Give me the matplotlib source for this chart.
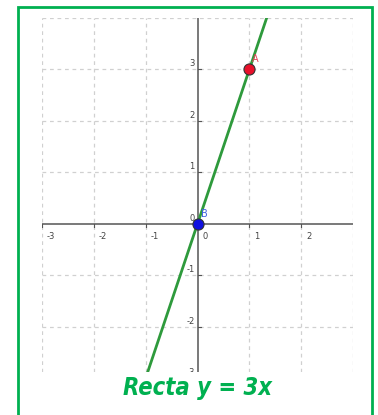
import numpy as np
import matplotlib.pyplot as plt
from matplotlib import font_manager
from matplotlib.patches import Rectangle
from matplotlib.transforms import offset_copy

# data
slope = 3
x_ticks = [-3, -2, -1, 0, 1, 2]
y_ticks = [-3, -2, -1, 1, 2, 3]
points = ["A", "B"]
px = [1, 0]
py = [3, 0]
point_colors = ["#e8102a", "#1010e0"]
label_colors = ["#e8405a", "#4060e0"]
xlim = (-3, 3)
ylim = (-2.88, 4)

green = "#00b050"
line_green = "#2e9a3c"


def narrow_font():
    # pick a condensed face if one is around
    for fam, st in [("Liberation Sans Narrow", "normal"), ("DejaVu Sans", "condensed")]:
        fp = font_manager.FontProperties(family=fam, style="italic", weight="bold", stretch=st)
        try:
            path = font_manager.findfont(fp, fallback_to_default=False)
        except ValueError:
            continue
        if "Narrow" in path or "Condensed" in path:
            return font_manager.FontProperties(fname=path, size=17)
    return font_manager.FontProperties(family="DejaVu Sans", style="italic",
                                       weight="bold", size=14)


fig = plt.figure(figsize=(3.78, 4.15), dpi=100)
ax = fig.add_axes([0.111, 0.1036, 0.823, 0.853])
ax.set_xlim(*xlim)
ax.set_ylim(*ylim)

# grid
for gx in range(-3, 4):
    if gx != 0:
        ax.axvline(gx, color="#d0d0d0", lw=0.9, ls=(0, (3, 3)), zorder=0)
for gy in range(-3, 5):
    if gy != 0:
        ax.axhline(gy, color="#d0d0d0", lw=0.9, ls=(0, (3, 3)), zorder=0)

# axes lines
ax.axhline(0, color="#555555", lw=1.1, zorder=1)
ax.axvline(0, color="#555555", lw=1.1, zorder=1)

for s in ax.spines.values():
    s.set_visible(False)
ax.set_xticks([])
ax.set_yticks([])

# tick marks and labels
tf = ax.transData
for t in x_ticks:
    ax.plot([t, t], [-0.07, 0], color="#555555", lw=0.8, zorder=1)
    ax.text(t, 0, str(t), transform=offset_copy(tf, fig=fig, x=5, y=-8, units="dots"),
            fontsize=6, color="#444444", ha="left", va="top", clip_on=True)
for t in y_ticks:
    ax.plot([0, 0.06], [t, t], color="#555555", lw=0.8, zorder=1)
    ax.text(0, t, str(t), transform=offset_copy(tf, fig=fig, x=-3, y=1, units="dots"),
            fontsize=6, color="#444444", ha="right", va="bottom", clip_on=True)
ax.text(0, 0, "0", transform=offset_copy(tf, fig=fig, x=-3, y=1, units="dots"),
        fontsize=6, color="#444444", ha="right", va="bottom")

# line y = 3x
xs = np.array(xlim)
ax.plot(xs, slope * xs, color=line_green, lw=2, zorder=2)

# points
for name, x, y, c, lc in zip(points, px, py, point_colors, label_colors):
    ax.plot(x, y, "o", ms=8, color=c, mec="#333333", mew=0.8, zorder=3)
    ax.text(x, y, name, transform=offset_copy(tf, fig=fig, x=3, y=5, units="dots"),
            fontsize=7, color=lc, ha="left", va="bottom", zorder=4)

# title and frame
fig.text(0.522, 0.066, "Recta y = 3x", color=green, fontproperties=narrow_font(),
         ha="center", va="center")
fig.patches.append(Rectangle((18 / 378, -0.02), (372 - 18) / 378, 1 - 7 / 415 + 0.02,
                             transform=fig.transFigure, fill=False,
                             edgecolor=green, lw=2))

fig.savefig("out.png", dpi=100)
